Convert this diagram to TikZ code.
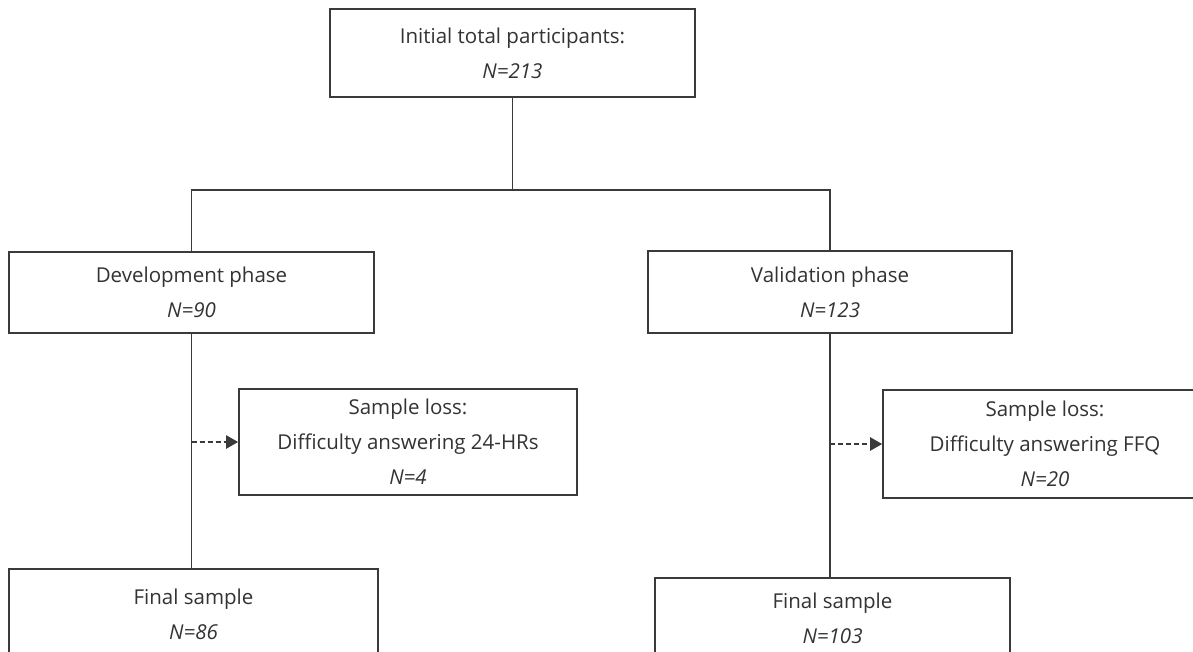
\documentclass[tikz,border=0pt]{standalone}
\usepackage{fontspec}
\setmainfont{Open Sans}
\usetikzlibrary{arrows.meta}
\definecolor{textgray}{HTML}{333333}
\definecolor{linegray}{HTML}{3A3A3A}
\begin{document}
\begin{tikzpicture}[x=1pt,y=-1pt,
  box/.style={draw=linegray, line width=1.6pt, fill=white, align=center, text=textgray,
    font=\fontsize{20.5}{35}\selectfont, inner sep=0pt},
  conn/.style={draw=linegray, line width=1.6pt},
  lossarrow/.style={conn, line width=2.2pt, dash pattern=on 5pt off 3pt, -{Triangle[length=12pt,width=13pt]}}]
\clip (0,0) rectangle (1193,652);
\fill[white] (0,0) rectangle (1193,652);
\node[box, minimum width=365, minimum height=88] (top) at (512.5,53) {Initial total participants:\\ \textit{N=213}};
\node[box, minimum width=365, minimum height=81] (dev) at (191.5,292.5) {Development phase\\ \textit{N=90}};
\node[box, minimum width=364, minimum height=82] (val) at (830,292) {Validation phase\\ \textit{N=123}};
\node[box, minimum width=338, minimum height=106] (loss1) at (408,442) {Sample loss:\\ Difficulty answering 24-HRs\\ \textit{N=4}};
\node[box, minimum width=324, minimum height=108] (loss2) at (1045,444) {Sample loss:\\ Difficulty answering FFQ\\ \textit{N=20}};
\node[box, minimum width=369, minimum height=90] (fin1) at (193.5,614) {Final sample\\ \textit{N=86}};
\node[box, minimum width=355, minimum height=80] (fin2) at (832.5,618) {Final sample\\ \textit{N=103}};
\coordinate (branch) at (512.5,190);
\draw[conn] (top.south) -- (branch);
\draw[conn] (dev.north) -- (dev.north |- branch) -- (val.north |- branch) -- (val.north);
\draw[conn] (dev.south) -- (dev.south |- fin1.north);
\draw[conn] (val.south) -- (val.south |- fin2.north);
\draw[lossarrow] (dev.south |- loss1.west) -- (loss1.west);
\draw[lossarrow] (val.south |- loss2.west) -- (loss2.west);
\end{tikzpicture}
\end{document}
